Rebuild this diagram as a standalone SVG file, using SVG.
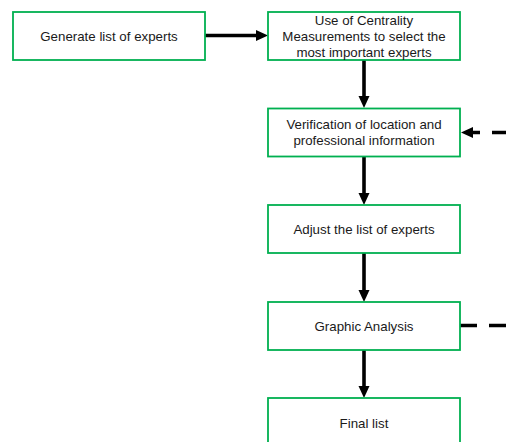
<svg xmlns="http://www.w3.org/2000/svg" width="506" height="442" viewBox="0 0 506 442">
  <style>
    .box { fill: #ffffff; stroke: #00b050; stroke-width: 1.8; }
    .lbl { font-family: "Liberation Sans", Arial, sans-serif; font-size: 13.3px; fill: #1a1a1a; text-anchor: middle; }
    .flow { stroke: #000000; stroke-width: 3.6; fill: none; }
    .dash { stroke: #000000; stroke-width: 3.6; fill: none; stroke-dasharray: 17 12; }
  </style>
  <defs>
    <marker id="head" markerUnits="userSpaceOnUse" markerWidth="12" markerHeight="12" refX="6" refY="6" orient="auto" viewBox="0 0 12 12">
      <path d="M0,0.5 L12,6 L0,11.5 Z" fill="#000000"/>
    </marker>
  </defs>
  <rect width="506" height="442" fill="#ffffff"/>

  <g id="connectors">
    <line class="flow" x1="205" y1="35.5" x2="262" y2="35.5" marker-end="url(#head)"/>
    <line class="flow" x1="364" y1="60" x2="364" y2="102" marker-end="url(#head)"/>
    <line class="flow" x1="364" y1="157" x2="364" y2="199" marker-end="url(#head)"/>
    <line class="flow" x1="364" y1="253" x2="364" y2="296" marker-end="url(#head)"/>
    <line class="flow" x1="364" y1="350" x2="364" y2="392" marker-end="url(#head)"/>
    <line class="dash" x1="509" y1="132.5" x2="467" y2="132.5" marker-end="url(#head)"/>
    <line class="dash" stroke-dasharray="16 12" x1="460" y1="325.5" x2="506" y2="325.5"/>
  </g>

  <g id="generate">
    <rect class="box" x="13" y="12" width="192" height="48"/>
    <text class="lbl" x="109" y="40.5">Generate list of experts</text>
  </g>

  <g id="centrality">
    <rect class="box" x="268" y="12" width="192" height="48"/>
    <text class="lbl" x="364" y="25.3">Use of Centrality</text>
    <text class="lbl" x="364" y="41">Measurements to select the</text>
    <text class="lbl" x="364" y="57">most important experts</text>
  </g>

  <g id="verification">
    <rect class="box" x="268" y="108.5" width="192" height="48"/>
    <text class="lbl" x="364" y="129">Verification of location and</text>
    <text class="lbl" x="364" y="145">professional information</text>
  </g>

  <g id="adjust">
    <rect class="box" x="268" y="205" width="192" height="48"/>
    <text class="lbl" x="364" y="233.5">Adjust the list of experts</text>
  </g>

  <g id="graphic">
    <rect class="box" x="268" y="302" width="192" height="48"/>
    <text class="lbl" x="364" y="330.7">Graphic Analysis</text>
  </g>

  <g id="final">
    <rect class="box" x="268" y="398" width="192" height="48"/>
    <text class="lbl" x="364" y="427.7">Final list</text>
  </g>
</svg>
